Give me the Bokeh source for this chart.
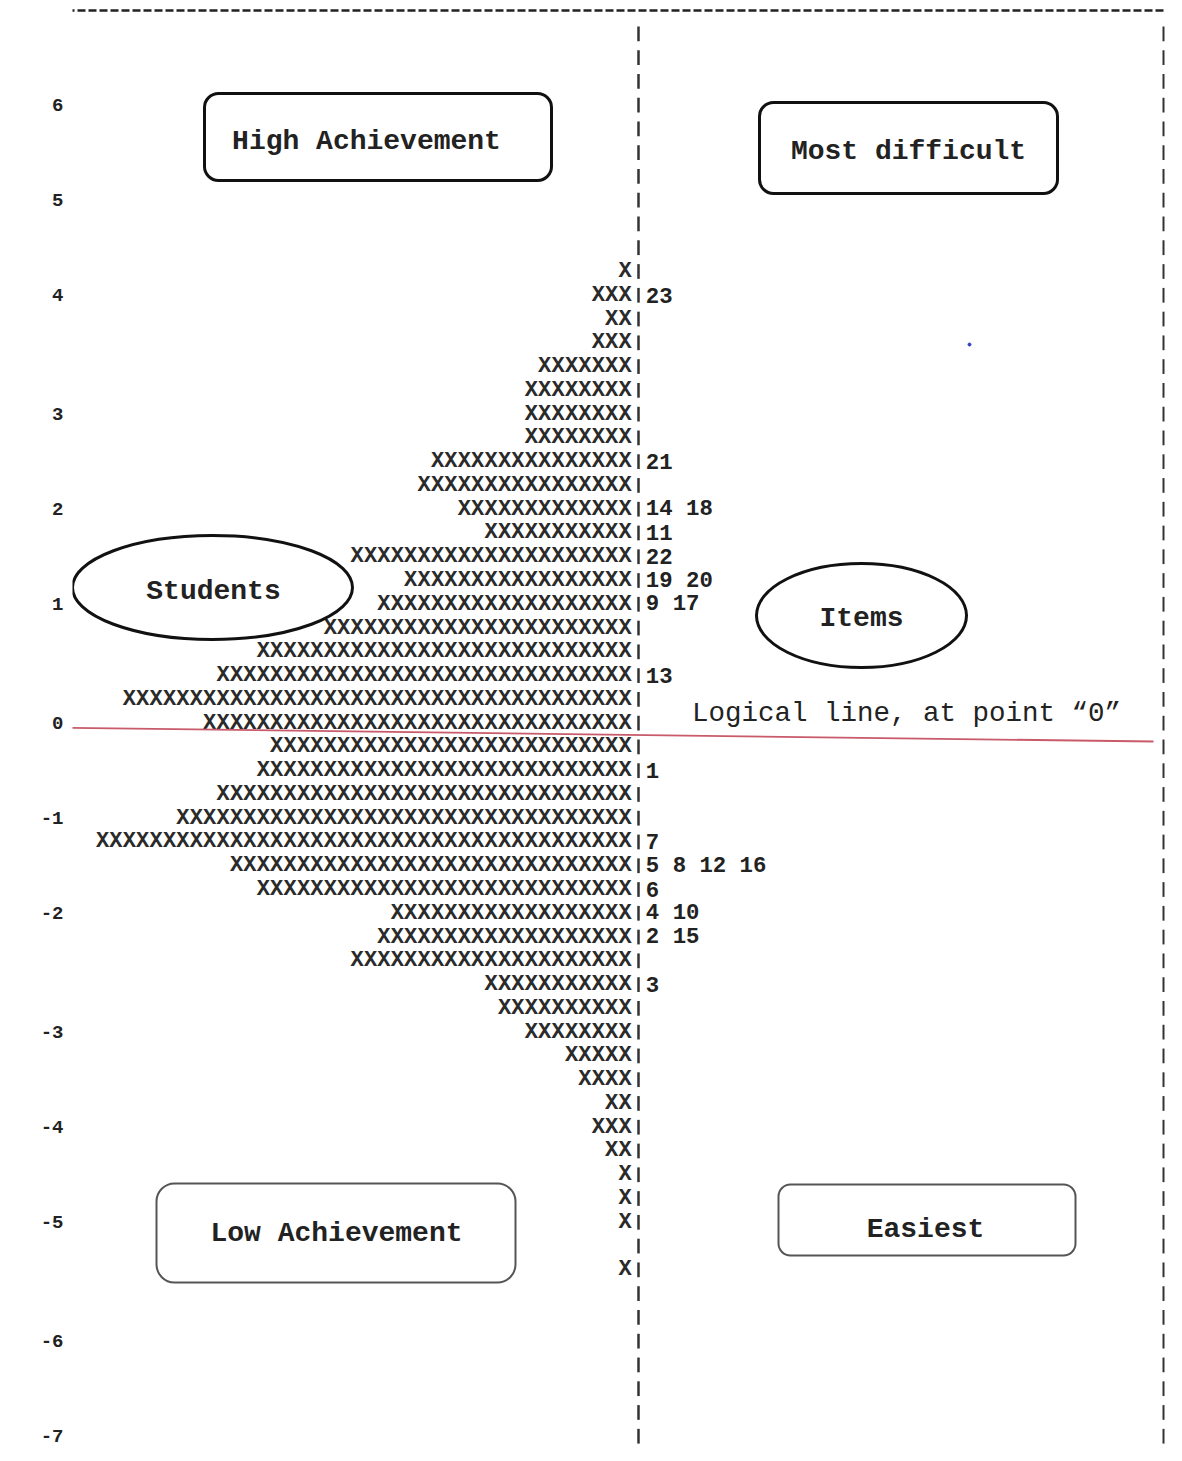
from bokeh.plotting import figure
from bokeh.models import Range1d, FixedTicker, BoxAnnotation
from bokeh.core.properties import value
from bokeh.embed import file_html
from bokeh.resources import INLINE

# ---------------- data ----------------
# one entry per map row, from the top row (row 0) downwards
student_counts = [1, 3, 2, 3, 7, 8, 8, 8, 15, 16, 13, 11, 21, 17, 19, 23, 28, 31, 38, 32,
                  27, 28, 31, 34, 40, 30, 28, 18, 19, 21, 11, 10, 8, 5, 4, 2, 3, 2, 1, 1,
                  1, 0, 1]
item_rows = [1, 8, 10, 11, 12, 13, 14, 17, 21, 24, 25, 26, 27, 28, 30]
item_labels = ["23", "21", "14 18", "11", "22", "19 20", "9 17", "13", "1", "7",
               "5 8 12 16", "6", "4 10", "2 15", "3"]
tick_rows = [-7, -3, 1, 6, 10, 14, 19, 23, 27, 32, 36, 40, 45, 49]
tick_labels = ["6", "5", "4", "3", "2", "1", "0", "-1", "-2", "-3", "-4", "-5", "-6", "-7"]
pipe_rows = list(range(-10, 50))

# ---------------- layout helpers (canvas px -> data units) ----------------
W, H = 1166, 1445
FRAME_LEFT = 72
CW = 13.4     # px per character column
RH = 23.77    # px per row
PIPE_X = 638
ROW0_Y = 271
def X(px):
    return (px - PIPE_X) / CW
def Y(py):
    return (py - ROW0_Y) / RH

MONO = value("Liberation Mono")

p = figure(width=W, height=H, output_backend="svg", toolbar_location=None,
           x_range=Range1d(X(FRAME_LEFT), X(W)), y_range=Range1d(Y(H), Y(0)),
           x_axis_location=None, y_axis_location="left",
           min_border_left=FRAME_LEFT, min_border_right=0, min_border_top=0, min_border_bottom=0)
p.outline_line_color = None
p.xgrid.visible = False
p.ygrid.visible = False
p.background_fill_color = "white"
p.border_fill_color = "white"

ax = p.yaxis[0]
ax.ticker = FixedTicker(ticks=tick_rows)
ax.major_label_overrides = {r: l for r, l in zip(tick_rows, tick_labels)}
ax.axis_line_color = None
ax.major_tick_line_color = None
ax.minor_tick_line_color = None
ax.major_tick_out = 0
ax.major_tick_in = 0
ax.major_label_standoff = 9
ax.major_label_text_font = "Liberation Mono"
ax.major_label_text_font_style = "bold"
ax.major_label_text_font_size = "19px"
ax.major_label_text_color = "#222222"

# top dashed line
p.line([X(0), X(1182)], [Y(10), Y(10)], line_color="#222222", line_width=2.5, line_dash="8 3")

# dashed vertical columns made of "|" per row
seg_half = 0.31
p.segment(x0=[0] * len(pipe_rows), y0=[r - seg_half for r in pipe_rows],
          x1=[0] * len(pipe_rows), y1=[r + seg_half for r in pipe_rows],
          line_color="#333333", line_width=2.5)
xr = X(1163)
p.segment(x0=[xr] * len(pipe_rows), y0=[r - seg_half for r in pipe_rows],
          x1=[xr] * len(pipe_rows), y1=[r + seg_half for r in pipe_rows],
          line_color="#333333", line_width=2.0)

# students: one X per person, columns to the left of the pipe
sx, sy = [], []
for r, c in enumerate(student_counts):
    for j in range(1, c + 1):
        sx.append(-j)
        sy.append(r)
p.text(x=sx, y=sy, text=["X"] * len(sx), text_font=MONO, text_font_size="22px",
       text_font_style="bold", text_color="#2a2a2a", text_align="center", text_baseline="middle")

# items: labels to the right of the pipe
p.text(x=[0.55] * len(item_rows), y=item_rows, text=item_labels, text_font=MONO,
       text_font_size="22.3px", text_font_style="bold", text_color="#222222",
       text_align="left", text_baseline="middle")

# red logical line at 0
p.line([X(40), X(1153)], [Y(727), Y(741)], line_color="#c85a6a", line_width=1.8)
p.text(x=[X(906)], y=[Y(713)], text=["Logical line, at point \u201c0\u201d"], text_font=MONO,
       text_font_size="27.5px", text_color="#222222", text_align="center", text_baseline="middle")

# rounded boxes: (left, right, top, bottom, text, text cx, text cy, width, colour, radius)
boxes = [
    (204, 551, 93, 180, "High Achievement", 366, 141, 3.0, "#111111", 14),
    (759, 1057, 102, 193, "Most difficult", 908, 151, 3.0, "#111111", 14),
    (156, 515, 1183, 1282, "Low Achievement", 336, 1233, 2.0, "#555555", 18),
    (778, 1075, 1184, 1255, "Easiest", 925, 1229, 2.0, "#555555", 12),
]
for l, r, t, b, txt, tx, ty, lw, col, rad in boxes:
    p.add_layout(BoxAnnotation(left=X(l), right=X(r), top=Y(t), bottom=Y(b),
                               fill_alpha=0.0, line_color=col, line_alpha=1.0,
                               line_width=lw, border_radius=rad))
    p.text(x=[X(tx)], y=[Y(ty)], text=[txt], text_font=MONO,
           text_font_size="28px", text_font_style="bold", text_color="#222222",
           text_align="center", text_baseline="middle")

# ellipses
ellipses = [(212, 587, 280, 104, "Students", 213, 591), (861, 615, 210, 104, "Items", 861, 618)]
for cx, cy, w, h, txt, tx, ty in ellipses:
    p.ellipse(x=[X(cx)], y=[Y(cy)], width=[w / CW], height=[h / RH],
              fill_color=None, line_color="#111111", line_width=3)
    p.text(x=[X(tx)], y=[Y(ty)], text=[txt], text_font=MONO, text_font_size="28px",
           text_font_style="bold", text_color="#222222", text_align="center",
           text_baseline="middle")

# tiny stray dot
p.scatter(x=[X(969)], y=[Y(344)], size=3, color="#3040c0")

open("out.html", "w").write(file_html(p, INLINE))
